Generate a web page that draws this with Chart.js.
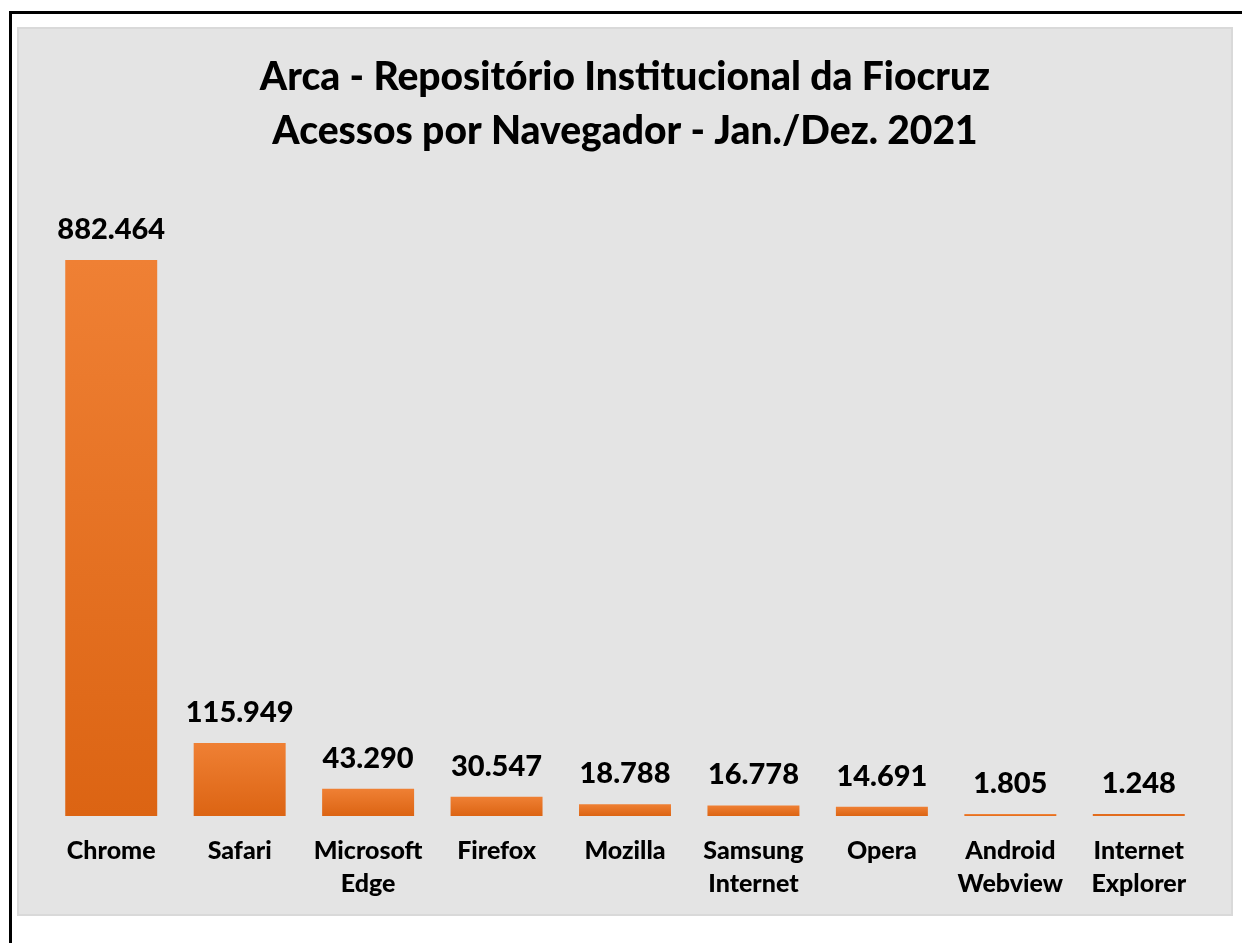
<!DOCTYPE html>
<html>
<head>
<meta charset="utf-8">
<script src="https://cdn.jsdelivr.net/npm/chart.js@4/dist/chart.umd.min.js"></script>
<style>
  html, body { margin: 0; padding: 0; background: #ffffff; width: 1242px; height: 943px; overflow: hidden; }
  #frame { position: absolute; left: 9px; top: 11px; width: 1300px; height: 1000px; border-top: 3px solid #000; border-left: 3px solid #000; }
  #panel { position: absolute; left: 17px; top: 27px; width: 1216px; height: 889px; box-sizing: border-box; background: #e4e4e4; border: 2px solid #d9d9d9; }
  #wrap { position: absolute; left: 17px; top: 27px; width: 1215px; height: 910px; }
</style>
</head>
<body>
<div id="frame"></div>
<div id="panel"></div>
<div id="wrap"><canvas id="c" width="1215" height="910"></canvas></div>
<script>
const categories = [["Chrome"], ["Safari"], ["Microsoft", "Edge"], ["Firefox"], ["Mozilla"], ["Samsung", "Internet"], ["Opera"], ["Android", "Webview"], ["Internet", "Explorer"]];
const accesses = [882464, 115949, 43290, 30547, 18788, 16778, 14691, 1805, 1248];
const titleLines = ["Arca - Repositório Institucional da Fiocruz", "Acessos por Navegador - Jan./Dez. 2021"];
const yMax = 1000000;

const FONT = "Lato, 'Open Sans', sans-serif";

function fmt(v) {
  return String(v).replace(/\B(?=(\d{3})+(?!\d))/g, ".");
}

function barGradient(ctx) {
  const chart = ctx.chart;
  if (!chart.chartArea || ctx.parsed === undefined) return "#e57022";
  const ys = chart.scales.y;
  const top = ys.getPixelForValue(ctx.parsed.y);
  const base = ys.getPixelForValue(0);
  if (!isFinite(top) || !isFinite(base) || base - top < 1) return "#e26c1d";
  const g = chart.ctx.createLinearGradient(0, top, 0, base);
  g.addColorStop(0, "#ef8034");
  g.addColorStop(1, "#dc6413");
  return g;
}

const valueLabels = {
  id: "valueLabels",
  afterDatasetsDraw(chart) {
    const c = chart.ctx;
    const meta = chart.getDatasetMeta(0);
    c.save();
    c.font = "900 29px " + FONT;
    c.fillStyle = "#000000";
    c.textAlign = "center";
    c.textBaseline = "alphabetic";
    meta.data.forEach((bar, i) => {
      c.fillText(fmt(chart.data.datasets[0].data[i]), bar.x, bar.y - 21);
    });
    c.restore();
  }
};

new Chart(document.getElementById("c"), {
  type: "bar",
  data: {
    labels: categories,
    datasets: [{
      data: accesses,
      backgroundColor: barGradient,
      borderWidth: 0,
      categoryPercentage: 1,
      barPercentage: 0.716,
      minBarLength: 2
    }]
  },
  options: {
    responsive: false,
    animation: false,
    layout: { padding: { left: 30, right: 29, top: 0, bottom: 19 } },
    plugins: {
      legend: { display: false },
      tooltip: { enabled: false },
      title: {
        display: true,
        text: titleLines,
        color: "#000000",
        font: { family: FONT, size: 39, weight: "900", lineHeight: 1.385 },
        padding: { top: 23, bottom: 28 }
      }
    },
    scales: {
      x: {
        grid: { display: false, drawTicks: false },
        border: { display: false },
        ticks: {
          color: "#000000",
          font: { family: FONT, size: 25, weight: "900", lineHeight: 1.32 },
          padding: 18,
          maxRotation: 0,
          autoSkip: false
        }
      },
      y: {
        display: false,
        min: 0,
        max: yMax
      }
    }
  },
  plugins: [valueLabels]
});
</script>
</body>
</html>
